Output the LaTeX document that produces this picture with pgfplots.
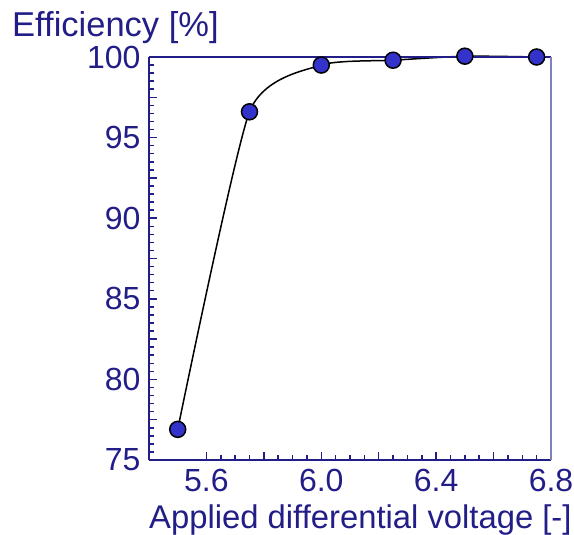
\documentclass[border=0pt]{standalone}
\usepackage{fontspec}
\setmainfont{Liberation Sans}
\usepackage{pgfplots}
\pgfplotsset{compat=1.18}
\definecolor{navy}{RGB}{35,30,135}
\definecolor{mfill}{RGB}{51,51,204}
\definecolor{rline}{RGB}{128,128,192}
\begin{document}
\begin{tikzpicture}[x=1pt,y=1pt]
\useasboundingbox (0,0) rectangle (574,535);
\clip (0,0) rectangle (574,535);
\begin{axis}[
  at={(149pt,75pt)}, anchor=south west,
  scale only axis, width=402pt, height=403pt,
  xmin=5.4, xmax=6.8, ymin=75, ymax=100,
  axis x line*=bottom, axis y line*=left,
  axis line style={navy, line width=2pt},
  tick align=inside,
  major tick length=8pt, minor tick length=4.5pt,
  tick style={navy, line width=1.5pt},
  xtick={5.6,6.0,6.4,6.8}, xticklabels={5.6,6.0,6.4,6.8},
  extra x ticks={5.4,5.8,6.2,6.6}, extra x tick labels={},
  minor x tick num=7,
  ytick={75,80,85,90,95,100}, yticklabels={75,80,85,90,95,100},
  extra y ticks={77.5,82.5,87.5,92.5,97.5}, extra y tick labels={},
  minor y tick num=9,
  extra tick style={major tick length=8pt, tick style={navy, line width=1.5pt}},
  ticklabel style={font=\fontsize{32}{38}\selectfont, text=navy},
  xticklabel style={yshift=-6pt},
  yticklabel style={xshift=-5pt},
  clip=false,
]
\addplot[black, line width=1.5pt, smooth, tension=0.35, mark=*, mark size=8pt,
  mark options={fill=mfill, draw=black, line width=1.5pt}]
  coordinates {(5.5,76.9) (5.75,96.6) (6.0,99.5) (6.25,99.8) (6.5,100.05) (6.75,100.0)};
\draw[navy, line width=1.3pt] (rel axis cs:0,1) -- (rel axis cs:1,1);
\draw[rline, line width=2pt] (rel axis cs:1,0) -- (rel axis cs:1,1);
\end{axis}
\node[anchor=base west, inner sep=0pt, text=navy, font=\fontsize{34.5}{41}\selectfont] at (12,498) {Efficiency [\%]};
\node[anchor=base west, inner sep=0pt, text=navy, font=\fontsize{32.8}{40}\selectfont] at (149,6) {Applied differential voltage [-]};
\end{tikzpicture}
\end{document}
